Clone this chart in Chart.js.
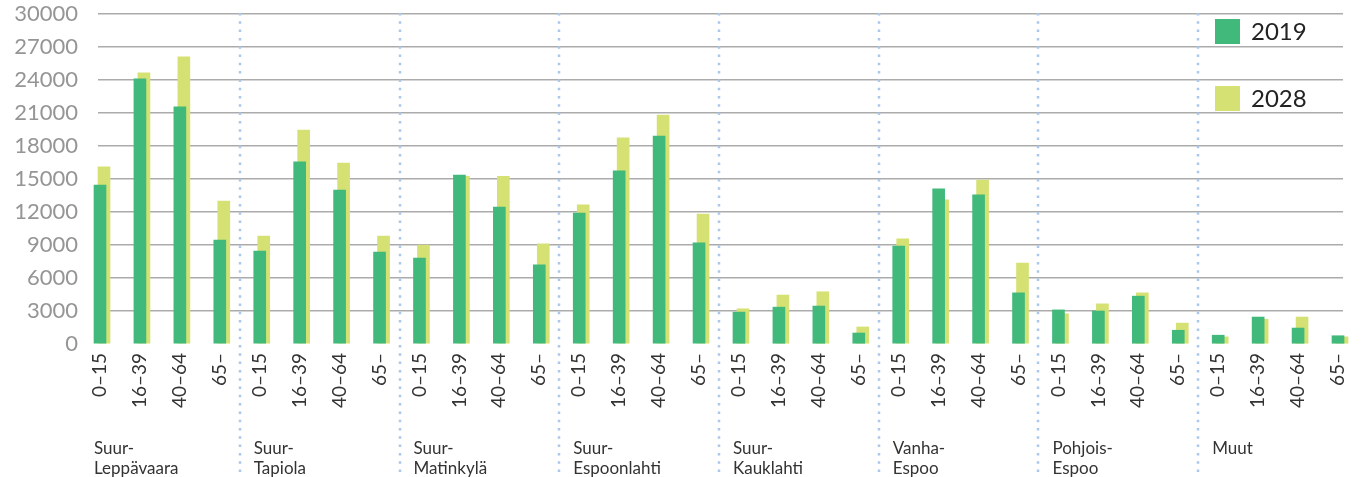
<!DOCTYPE html>
<html>
<head>
<meta charset="utf-8">
<script src="https://cdn.jsdelivr.net/npm/chart.js@4/dist/chart.umd.min.js"></script>
<style>
  html, body { margin: 0; padding: 0; background: #fff; }
  #wrap { width: 1361px; height: 477px; }
</style>
</head>
<body>
<div id="wrap"><canvas id="population" width="1361" height="477"></canvas></div>
<script>
var ageGroups = ["0\u201315", "16\u201339", "40\u201364", "65\u2013"];
var districts = [
    ["Suur-", "Leppävaara"],
    ["Suur-", "Tapiola"],
    ["Suur-", "Matinkylä"],
    ["Suur-", "Espoonlahti"],
    ["Suur-", "Kauklahti"],
    ["Vanha-", "Espoo"],
    ["Pohjois-", "Espoo"],
    ["Muut"]
];
var values2019 = [14450, 24100, 21550, 9450, 8450, 16550, 14000, 8350,
    7800, 15350, 12450, 7200, 11900, 15750, 18900, 9200,
    2900, 3350, 3450, 1000, 8900, 14100, 13550, 4650,
    3100, 3000, 4350, 1250, 800, 2450, 1450, 750];
var values2028 = [16100, 24650, 26100, 13000, 9800, 19450, 16450, 9800,
    9000, 15250, 15250, 9100, 12650, 18750, 20800, 11800,
    3200, 4450, 4750, 1550, 9550, 13100, 14900, 7350,
    2750, 3650, 4650, 1900, 650, 2250, 2450, 650];
var seriesNames = ["2019", "2028"];
var seriesColors = ["#41b97b", "#d5e173"];

var xMin = -0.05, xMax = 31.125, shift = 0.1;

function points(values) {
    return values.map(function (v, i) { return { x: i, y: v }; });
}

// drop the extra side padding chart.js reserves for rotated labels
function fixBottom(height) {
    return function (s) {
        s.height = height;
        s.paddingLeft = 0;
        s.paddingRight = 0;
    };
}

// dotted separators, district names and legend
var extras = {
    id: "extras",
    afterDraw: function (chart) {
        var ctx = chart.ctx;
        var x = chart.scales.x;
        ctx.save();
        ctx.strokeStyle = "#a9c8ea";
        ctx.lineWidth = 2.5;
        ctx.setLineDash([2.5, 5.8]);
        for (var k = 1; k < districts.length; k++) {
            var px = Math.round(x.getPixelForValue(k * 4 - 0.5));
            ctx.beginPath();
            ctx.moveTo(px, 13);
            ctx.lineTo(px, 477);
            ctx.stroke();
        }
        ctx.setLineDash([]);

        ctx.fillStyle = "#333";
        ctx.font = "17px Lato";
        ctx.textAlign = "left";
        ctx.textBaseline = "alphabetic";
        districts.forEach(function (lines, k) {
            var lx = x.getPixelForValue(k * 4) - 6;
            lines.forEach(function (t, j) {
                ctx.fillText(t, lx, 454 + j * 20);
            });
        });

        ctx.font = "24px Lato";
        ctx.textBaseline = "middle";
        seriesNames.forEach(function (name, j) {
            var ly = 19 + j * 67;
            ctx.fillStyle = seriesColors[j];
            ctx.fillRect(1215, ly, 25, 25);
            ctx.fillStyle = "#222";
            ctx.fillText(name, 1251, ly + 13);
        });
        ctx.restore();
    }
};

var chart = new Chart(document.getElementById("population"), {
    type: "bar",
    data: {
        datasets: [
            {
                label: seriesNames[0],
                data: points(values2019),
                backgroundColor: seriesColors[0],
                xAxisID: "x",
                barThickness: 12,
                grouped: false,
                clip: false
            },
            {
                label: seriesNames[1],
                data: points(values2028),
                backgroundColor: seriesColors[1],
                xAxisID: "x2",
                barThickness: 12,
                grouped: false,
                clip: false
            }
        ]
    },
    options: {
        responsive: false,
        animation: false,
        layout: { padding: { top: 14, right: 18, left: 0, bottom: 0 } },
        plugins: {
            legend: { display: false },
            tooltip: { enabled: false }
        },
        scales: {
            x: {
                type: "linear",
                position: "bottom",
                offset: false,
                min: xMin,
                max: xMax,
                grid: { display: false, drawTicks: false, offset: false },
                border: { display: false },
                afterFit: fixBottom(133),
                ticks: {
                    stepSize: 1,
                    includeBounds: false,
                    autoSkip: false,
                    minRotation: 90,
                    maxRotation: 90,
                    padding: 9,
                    color: "#333",
                    font: { family: "Lato", size: 19 },
                    callback: function (v) {
                        return Number.isInteger(v) ? ageGroups[v % 4] : "";
                    }
                }
            },
            x2: {
                type: "linear",
                position: "bottom",
                offset: false,
                min: xMin - shift,
                max: xMax - shift,
                grid: { display: false, drawTicks: false, offset: false },
                border: { display: false },
                ticks: { display: false },
                afterFit: fixBottom(0)
            },
            y: {
                min: 0,
                max: 30000,
                afterFit: function (s) {
                    s.width = 98;
                    s.paddingTop = 0;
                    s.paddingBottom = 0;
                },
                border: { display: false },
                grid: {
                    drawTicks: false,
                    lineWidth: 1.5,
                    color: function (c) {
                        return c.tick && c.tick.value === 0 ? "rgba(0,0,0,0)" : "#ababab";
                    }
                },
                ticks: {
                    stepSize: 3000,
                    padding: 20,
                    color: "#959595",
                    font: { family: "Lato", size: 22 },
                    callback: function (v) { return String(v); }
                }
            }
        }
    },
    plugins: [extras]
});
</script>
</body>
</html>
